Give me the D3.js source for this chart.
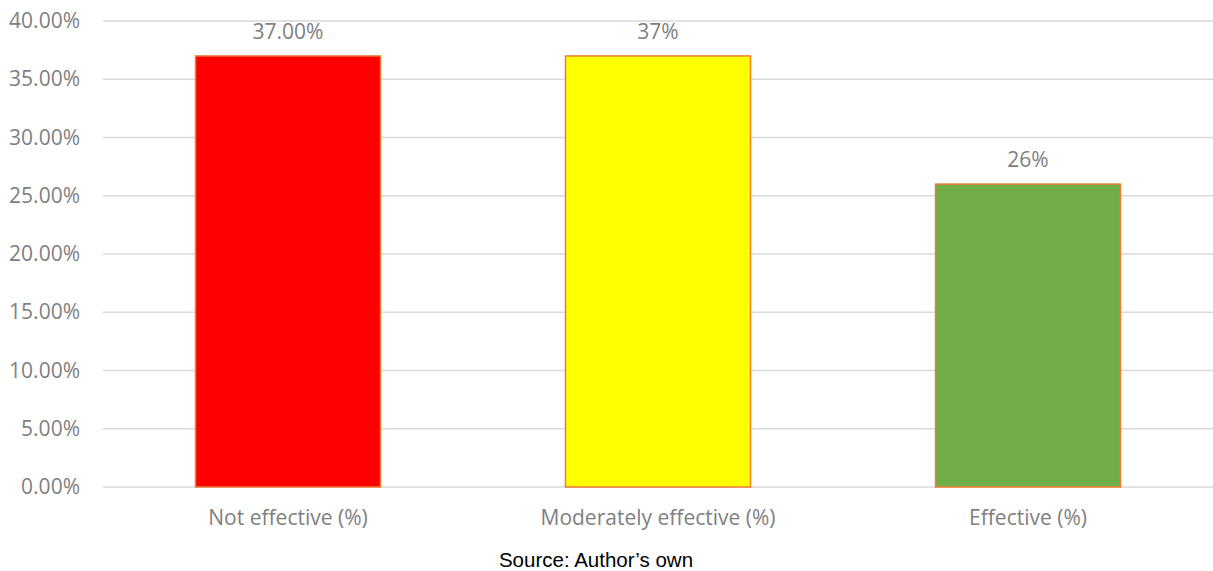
<!DOCTYPE html>
<html>
<head>
<meta charset="utf-8">
<script src="https://cdn.jsdelivr.net/npm/d3@7"></script>
<style>
  html, body { margin: 0; padding: 0; background: #fff; }
  svg { display: block; }
</style>
</head>
<body>
<svg id="chart" width="1213" height="571"></svg>
<script>
// Effectiveness ratings (share of respondents)
const categories = ["Not effective (%)", "Moderately effective (%)", "Effective (%)"];
const values = [0.37, 0.37, 0.26];
const valueLabels = ["37.00%", "37%", "26%"];
const barColors = ["#FF0000", "#FFFF00", "#70AD47"];
const yTicks = [0, 0.05, 0.10, 0.15, 0.20, 0.25, 0.30, 0.35, 0.40];
const sourceNote = "Source: Author\u2019s own";

const svg = d3.select("#chart");
const margin = { left: 103, right: 0, top: 21, bottom: 84 };
const W = 1213, H = 571;

const x = d3.scaleBand()
  .domain(categories)
  .range([margin.left, W - margin.right])
  .paddingInner(0.5)
  .paddingOuter(0.25);

const y = d3.scaleLinear()
  .domain([0, 0.40])
  .range([H - margin.bottom, margin.top]);

const font = "'Open Sans', sans-serif";
const fontSize = 21;
const grey = "#7F7F7F";

// Horizontal gridlines
svg.append("g")
  .selectAll("line")
  .data(yTicks)
  .join("line")
  .attr("x1", margin.left)
  .attr("x2", W)
  .attr("y1", d => y(d))
  .attr("y2", d => y(d))
  .attr("stroke", "#D9D9D9")
  .attr("stroke-width", 1.5);

// Y axis labels
const yAxis = d3.axisLeft(y).tickValues(yTicks).tickFormat(d3.format(".2%")).tickSize(0).tickPadding(23);
const gy = svg.append("g").attr("transform", `translate(${margin.left},0)`).call(yAxis);
gy.select(".domain").remove();
gy.selectAll("text")
  .attr("font-family", font)
  .attr("font-size", fontSize)
  .attr("fill", grey);

// Bars
svg.append("g")
  .selectAll("rect")
  .data(categories)
  .join("rect")
  .attr("x", d => x(d))
  .attr("width", x.bandwidth())
  .attr("y", (d, i) => y(values[i]))
  .attr("height", (d, i) => y(0) - y(values[i]))
  .attr("fill", (d, i) => barColors[i])
  .attr("stroke", "#ED7D31")
  .attr("stroke-width", 1.5);

// Value labels
svg.append("g")
  .selectAll("text")
  .data(categories)
  .join("text")
  .attr("x", d => x(d) + x.bandwidth() / 2)
  .attr("y", (d, i) => y(values[i]) - 17)
  .attr("text-anchor", "middle")
  .attr("font-family", font)
  .attr("font-size", fontSize)
  .attr("fill", grey)
  .text((d, i) => valueLabels[i]);

// Category labels
const xAxis = d3.axisBottom(x).tickSize(0).tickPadding(23);
const gx = svg.append("g").attr("transform", `translate(0,${y(0)})`).call(xAxis);
gx.select(".domain").remove();
gx.selectAll("text")
  .attr("font-family", font)
  .attr("font-size", fontSize)
  .attr("fill", grey);

// Source note
svg.append("text")
  .attr("x", 596)
  .attr("y", 567)
  .attr("text-anchor", "middle")
  .attr("font-family", "'Liberation Sans', Arial, sans-serif")
  .attr("font-size", 20.5)
  .attr("fill", "#000")
  .text(sourceNote);
</script>
</body>
</html>
